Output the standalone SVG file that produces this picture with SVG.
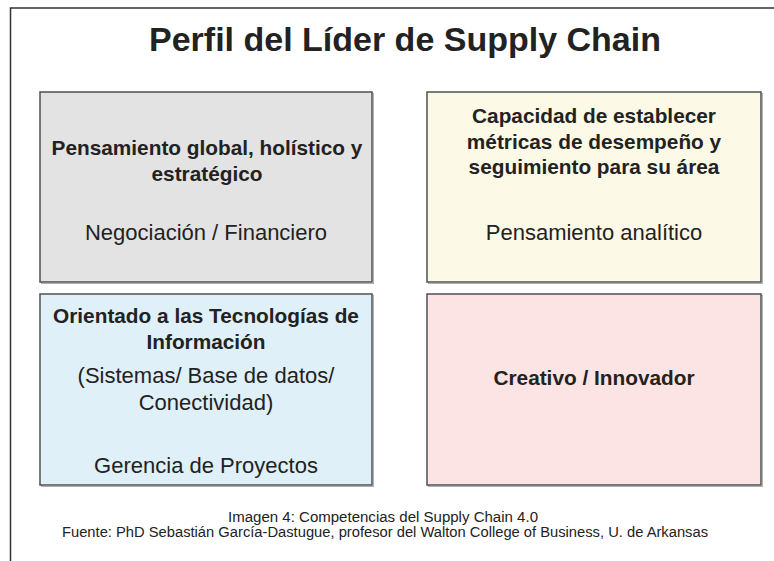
<svg xmlns="http://www.w3.org/2000/svg" width="774" height="561" viewBox="0 0 774 561">
<style>
.box{stroke:#505050;stroke-width:1.5}
.sh{fill:none;stroke:#b0b0b0;stroke-width:1}
text{font-family:"Liberation Sans",Arial,sans-serif;fill:#222;text-anchor:middle}
.b{font-weight:bold;font-size:20.8px}
.r{font-size:22px}
.cap{font-size:14px}
</style>
<rect width="774" height="561" fill="#ffffff"/>
<path d="M10.5 561 V8 H774" fill="none" stroke="#333" stroke-width="1.5"/>
<text x="405" y="51" style="font-weight:bold;font-size:34px">Perfil del Líder de Supply Chain</text>
<g id="node1">
<rect class="sh" x="41.5" y="93.5" width="332" height="190"/>
<rect class="box" x="40" y="92" width="332" height="190" fill="#e3e3e3"/>
<text class="b" x="207" y="155">Pensamiento global, holístico y</text>
<text class="b" x="207" y="181">estratégico</text>
<text class="r" x="206" y="240">Negociación / Financiero</text>
</g>
<g id="node2">
<rect class="sh" x="428.5" y="93.5" width="334" height="190"/>
<rect class="box" x="427" y="92" width="334" height="190" fill="#fcf9e6"/>
<text class="b" x="594" y="123">Capacidad de establecer</text>
<text class="b" x="594" y="149">métricas de desempeño y</text>
<text class="b" x="594" y="174">seguimiento para su área</text>
<text class="r" x="594" y="240">Pensamiento analítico</text>
</g>
<g id="node3">
<rect class="sh" x="41.5" y="295.5" width="332" height="191"/>
<rect class="box" x="40" y="294" width="332" height="191" fill="#dff0f8"/>
<text class="b" x="206" y="323">Orientado a las Tecnologías de</text>
<text class="b" x="206" y="349">Información</text>
<text class="r" x="206" y="383">(Sistemas/ Base de datos/</text>
<text class="r" x="206" y="410">Conectividad)</text>
<text class="r" x="206" y="473">Gerencia de Proyectos</text>
</g>
<g id="node4">
<rect class="sh" x="428.5" y="295.5" width="334" height="191"/>
<rect class="box" x="427" y="294" width="334" height="191" fill="#fde4e4"/>
<text class="b" x="594" y="385">Creativo / Innovador</text>
</g>
<g id="connectors"></g>
<text class="cap" x="383" y="522" textLength="310" lengthAdjust="spacingAndGlyphs">Imagen 4: Competencias del Supply Chain 4.0</text>
<text class="cap" x="385" y="537" textLength="646" lengthAdjust="spacingAndGlyphs">Fuente: PhD Sebastián García-Dastugue, profesor del Walton College of Business, U. de Arkansas</text>
</svg>
